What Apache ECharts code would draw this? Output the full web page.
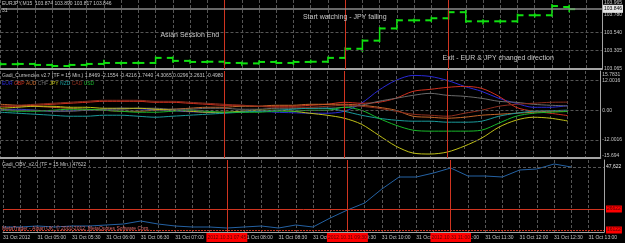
<!DOCTYPE html>
<html>
<head>
<meta charset="utf-8">
<script src="https://cdn.jsdelivr.net/npm/echarts@6/dist/echarts.min.js"></script>
<style>
  html, body { margin: 0; padding: 0; background: #000; }
  #chart { width: 625px; height: 243px; }
</style>
</head>
<body>
<div id="chart"></div>
<script>
// M15 bar times, index 0 = 04:30
const barTimes = ['04:30','04:45','05:00','05:15','05:30','05:45','06:00','06:15','06:30','06:45',
  '07:00','07:15','07:30','07:45','08:00','08:15','08:30','08:45','09:00','09:15','09:30','09:45',
  '10:00','10:15','10:30','10:45','11:00','11:15','11:30','11:45','12:00','12:15','12:30','12:45','13:00'];

// EURJPY bars
const opens  = [103.131,103.128,103.131,103.118,103.104,103.118,103.131,103.144,103.144,103.144,103.210,103.171,103.157,103.160,103.144,103.138,103.157,103.144,103.157,103.160,103.210,103.329,103.435,103.594,103.700,103.700,103.727,103.806,103.687,103.687,103.687,103.766,103.766,103.874];
const highs  = [103.140,103.140,103.135,103.125,103.125,103.135,103.171,103.150,103.155,103.215,103.215,103.175,103.170,103.165,103.150,103.165,103.165,103.170,103.175,103.215,103.335,103.440,103.600,103.705,103.710,103.735,103.815,103.820,103.700,103.700,103.775,103.780,103.900,103.890];
const lows   = [103.125,103.120,103.110,103.095,103.100,103.110,103.128,103.130,103.135,103.140,103.160,103.145,103.150,103.130,103.120,103.135,103.140,103.130,103.150,103.155,103.205,103.300,103.430,103.590,103.680,103.690,103.720,103.680,103.660,103.670,103.680,103.750,103.760,103.817];
const closes = [103.128,103.131,103.118,103.104,103.118,103.131,103.144,103.144,103.144,103.210,103.171,103.157,103.160,103.144,103.138,103.157,103.144,103.157,103.160,103.210,103.329,103.435,103.594,103.700,103.700,103.727,103.806,103.687,103.687,103.687,103.766,103.766,103.886,103.846];
const priceTicks = [103.965, 103.780, 103.540, 103.305, 103.065];
const priceGrid = [103.540, 103.305];
const bidPrice = 103.846;

// Gadi_Currencies strength lines
const currencies = ['EUR','GBP','AUD','CHF','JPY','NZD','CAD','USD'];
const currencyColors = ['#2a2ad8','#d0301e','#c4662a','#6a6a6a','#c0c018','#1a9a9a','#8e2e1e','#18b82a'];
const eur = [0.2,0.4,0,-0.4,-0.2,0,0.4,0.8,0.6,0.2,-0.2,-0.6,-0.8,-1.0,-0.6,-0.4,-0.8,-1.0,-1.2,-1.2,-0.4,2.8,8.0,12.0,14.0,13.6,12.0,9.6,7.6,4.8,2.8,1.2,1.2,1.8469];
const gbp = [1.6,1.6,2.0,2.4,2.8,3.2,3.6,3.6,3.6,3.2,3.2,2.8,2.4,2.0,2.0,1.6,1.6,1.6,2.0,2.4,3.2,2.8,3.2,4.8,7.6,8.4,9.2,9.6,8.8,5.6,1.2,-0.4,-1.2,-2.1554];
const aud = [2.4,2.0,1.6,1.2,0.8,0.4,0,-0.4,-0.4,0,0.4,0.8,1.2,1.2,1.6,1.6,2.0,2.0,2.4,2.4,2.4,2.0,1.2,0,-2.4,-2.8,-3.2,-2.8,-2.0,-1.6,-1.2,-0.8,-0.4,-0.4216];
const chf = [0.4,0,0,-0.4,-0.4,0,0.4,0.4,0.8,0.8,0.4,0.4,0.8,0.8,0.4,0.4,0.8,0.8,0.8,0.8,1.2,2.0,3.6,4.8,6.0,6.8,6.0,5.6,4.8,3.6,3.2,2.4,2.0,1.7440];
const jpy = [0.8,1.2,1.6,1.6,1.2,1.2,0.8,0.8,0.8,0.4,0,-0.4,-0.8,-0.8,-0.4,0,0,-0.4,-1.2,-2.0,-3.2,-5.6,-10.0,-14.4,-17.2,-17.6,-16.8,-14.4,-11.2,-6.8,-4.0,-2.8,-3.2,-4.3065];
const nzd = [-0.8,-1.2,-1.6,-2.0,-2.4,-2.4,-2.0,-2.0,-2.4,-2.8,-2.4,-2.0,-1.6,-1.2,-0.8,-0.4,0,0.4,0.8,0.8,-0.4,-2.0,-3.2,-4.0,-4.4,-4.4,-4.8,-4.8,-4.4,-2.4,-1.2,-0.4,-0.2,0.0296];
const cad = [1.6,2.0,2.4,2.8,3.2,3.6,4.0,4.0,4.0,3.6,3.6,3.2,2.8,2.4,2.0,1.6,1.2,1.2,1.2,1.6,2.0,1.6,0.8,-0.4,-1.6,-2.0,-2.4,-1.2,0,1.6,2.4,2.8,3.2,3.2631];
const usd = [0,-0.4,-0.4,0,0.4,0.4,0,-0.4,-0.8,-0.8,-0.4,0,-0.4,-0.8,-0.8,-0.8,-0.4,-0.4,0,0,1.2,0,-3.2,-6.0,-8.0,-8.4,-8.4,-8.4,-8.0,-5.2,-2.4,-1.2,-0.8,-0.4980];
const strengthTicks = [15.7831, 12.0016, 0, -12.0016, -15.694];
const strengthLevels = [12.0016, 0, -12.0016];

// Gadi_OBV
const obv = [17622,17622,18122,17622,18122,18122,18622,19122,20622,19122,18122,17622,17622,17122,17622,18122,17122,18622,17622,22122,26122,29622,36622,42622,42622,44622,47122,43122,43122,42622,46122,46622,49122,47622];
const obvTicks = [47622];
const obvLines = [26622, 16122];

// vertical lines (bar index) and chart notes
const eventBars = [13, 20, 26];
const notes = [
  { text: 'Asian Session End', bar: 9.28, price: 103.508 },
  { text: 'Start watching - JPY falling', bar: 17.55, price: 103.737 },
  { text: 'Exit - EUR & JPY changed direction', bar: 25.65, price: 103.208 }
];

const font = 'Liberation Sans';
const small = { fontFamily: font, fontSize: 5, color: '#c4c4c4', fontWeight: 'normal' };
const gridColor = '#555';
const sepColor = '#a4a4a4';
const redLine = '#d03420';
const xMax = 34.9;

function xAxisFor(gi, showLabels) {
  return {
    type: 'value', gridIndex: gi, min: 0, max: xMax, interval: 1,
    axisLine: { show: true, onZero: false, lineStyle: { color: sepColor, width: gi === 2 ? 1 : 2 } },
    axisTick: { show: false },
    splitLine: { show: true, lineStyle: { color: gridColor, type: [3, 2], width: 1 } },
    axisLabel: {
      show: showLabels, interval: 0, align: 'left', margin: 3, ...small,
      formatter: v => {
        if (v !== Math.round(v) || v % 2 !== 0) return '';
        return v === 0 ? '31 Oct 2012' : '31 Oct ' + barTimes[v];
      }
    }
  };
}

function yLabel(ticks, fmt, padTop, padBottom) {
  const top = Math.max(...ticks), bot = Math.min(...ticks);
  return {
    customValues: ticks, margin: 2, ...small,
    formatter: v => v === top ? '{t|' + fmt(v) + '}' : v === bot ? '{b|' + fmt(v) + '}' : fmt(v),
    rich: { t: { ...small, padding: [padTop, 0, 0, 0] }, b: { ...small, padding: [padBottom, 0, 0, 0] } }
  };
}

// helper series that only carries mark lines
function lineLayer(gi, z, items) {
  return { type: 'line', xAxisIndex: gi, yAxisIndex: gi, data: [], z: z, silent: true,
    markLine: { silent: true, symbol: ['none', 'none'], animation: false, data: items } };
}

const vLines = (withLabel) => eventBars.map(b => ({
  xAxis: b,
  lineStyle: { color: redLine, width: 1, type: 'solid' },
  label: withLabel ? {
    show: true, position: 'start', distance: 1,
    formatter: '2012.10.31 ' + barTimes[b],
    backgroundColor: '#ff0000', color: '#5a0000', fontFamily: font, fontSize: 5, padding: [2, 1, 2, 1]
  } : { show: false }
}));

const hGrid = vals => vals.map(v => ({ yAxis: v, lineStyle: { color: gridColor, type: [3, 2], width: 1 }, label: { show: false } }));

const legendRich = {};
currencies.forEach((c, i) => { legendRich[c] = { fontFamily: font, fontSize: 5, color: currencyColors[i] }; });

const option = {
  backgroundColor: '#000',
  animation: false,
  title: [
    { text: 'EURJPY,M15  103.874 103.890 103.817 103.846', left: 2, top: 1, padding: 0, textStyle: small },
    { text: '31', left: 2, top: 8, padding: 0, textStyle: small },
    { text: 'Gadi_Currencies v2.7 (TF = 15 Min.) 1.8469 -2.1554 -0.4216 1.7440 -4.3065 0.0296 3.2631 -0.4980', left: 2, top: 73, padding: 0, textStyle: small },
    { text: currencies.map(c => '{' + c + '|' + c + '}').join(' '), left: 2, top: 81, padding: 0, textStyle: { ...small, rich: legendRich } },
    { text: 'Gadi_OBV_v2.0 (TF = 15 Min.) 47622', left: 2, top: 162, padding: 0, textStyle: small },
    { text: 'MetaTrader - Alpari UK, \u00a9 2001-2012, MetaQuotes Software Corp.', left: 2, top: 226, padding: 0, textStyle: { ...small, color: '#e06a6a' } }
  ],
  grid: [
    { left: 0.5, right: 21, top: 0, height: 69 },
    { left: 0.5, right: 21, top: 71, height: 87 },
    { left: 0.5, right: 21, top: 160, height: 72 }
  ],
  xAxis: [xAxisFor(0, false), xAxisFor(1, false), xAxisFor(2, true)],
  yAxis: [
    { type: 'value', gridIndex: 0, position: 'right', min: 103.065, max: 103.965,
      axisLine: { show: true, onZero: false, lineStyle: { color: sepColor } }, axisTick: { show: false }, splitLine: { show: false },
      axisLabel: yLabel(priceTicks, v => v.toFixed(3), 6, 0) },
    { type: 'value', gridIndex: 1, position: 'right', min: -19.2, max: 15.7831,
      axisLine: { show: true, onZero: false, lineStyle: { color: sepColor } }, axisTick: { show: false }, splitLine: { show: false },
      axisLabel: yLabel(strengthTicks, v => v === 0 ? '0.00' : String(v), 8, 12) },
    { type: 'value', gridIndex: 2, position: 'right', min: 15122, max: 51122,
      axisLine: { show: true, onZero: false, lineStyle: { color: sepColor } }, axisTick: { show: false }, splitLine: { show: false },
      axisLabel: { customValues: obvTicks, margin: 2, ...small, color: '#e8e8e8' } }
  ],
  series: [
    // grid levels under the data
    lineLayer(0, 1, hGrid(priceGrid)),
    lineLayer(1, 1, hGrid(strengthLevels)),
    lineLayer(2, 1, hGrid(obvTicks)),
    // price bars
    {
      type: 'custom', xAxisIndex: 0, yAxisIndex: 0, z: 3,
      data: opens.map((o, i) => [i, o, highs[i], lows[i], closes[i]]),
      encode: { x: 0, y: [1, 2, 3, 4] },
      renderItem: (params, api) => {
        const i = api.value(0);
        const pO = api.coord([i, api.value(1)]);
        const pH = api.coord([i, api.value(2)]);
        const pL = api.coord([i, api.value(3)]);
        const pC = api.coord([i, api.value(4)]);
        const style = { stroke: '#10e010', lineWidth: 2 };
        return { type: 'group', children: [
          { type: 'line', shape: { x1: pH[0], y1: pH[1] - 1, x2: pL[0], y2: pL[1] + 1 }, style: { stroke: '#10e010', lineWidth: 1.5 } },
          { type: 'line', shape: { x1: pO[0] - 6, y1: pO[1], x2: pO[0], y2: pO[1] }, style },
          { type: 'line', shape: { x1: pC[0], y1: pC[1], x2: pC[0] + 6, y2: pC[1] }, style }
        ] };
      },
      markPoint: {
        silent: true, symbol: 'circle', symbolSize: 0,
        label: { show: true, position: 'right', distance: 0, formatter: '{b}', color: '#c8c8c8', fontFamily: font, fontSize: 7 },
        data: notes.map(n => ({ name: n.text, coord: [n.bar, n.price] }))
      }
    },
    // currency strength lines
    ...[eur, gbp, aud, chf, jpy, nzd, cad, usd].map((vals, k) => ({
      type: 'line', name: currencies[k], xAxisIndex: 1, yAxisIndex: 1, z: 3,
      data: vals.map((v, i) => [i, v]), showSymbol: false, smooth: 0.3,
      lineStyle: { color: currencyColors[k], width: 1 }
    })),
    // OBV
    {
      type: 'line', name: 'OBV', xAxisIndex: 2, yAxisIndex: 2, z: 3,
      data: obv.map((v, i) => [i, v]), showSymbol: false,
      lineStyle: { color: '#2462a4', width: 1 }
    },
    // red vertical lines, bid line and OBV horizontal lines on top
    lineLayer(0, 5, vLines(false).concat([{
      yAxis: bidPrice, lineStyle: { color: '#8a8a8a', width: 1.5, type: 'solid' },
      label: { show: true, position: 'end', distance: 1, formatter: bidPrice.toFixed(3),
        backgroundColor: '#e4e4e4', color: '#000', fontFamily: font, fontSize: 5, padding: [2, 1, 1, 1] }
    }])),
    lineLayer(1, 5, vLines(false)),
    lineLayer(2, 5, vLines(true).concat(obvLines.map((v, k) => ({
      yAxis: v, lineStyle: { color: redLine, width: 1, type: k === 0 ? 'solid' : [2, 1] },
      label: { show: true, position: 'end', distance: 2, formatter: String(v),
        backgroundColor: '#ff0000', color: '#5a0000', fontFamily: font, fontSize: 5, padding: [1, 1, 1, 1] }
    }))))
  ]
};

const myChart = echarts.init(document.getElementById('chart'));
myChart.setOption(option);
</script>
</body>
</html>
